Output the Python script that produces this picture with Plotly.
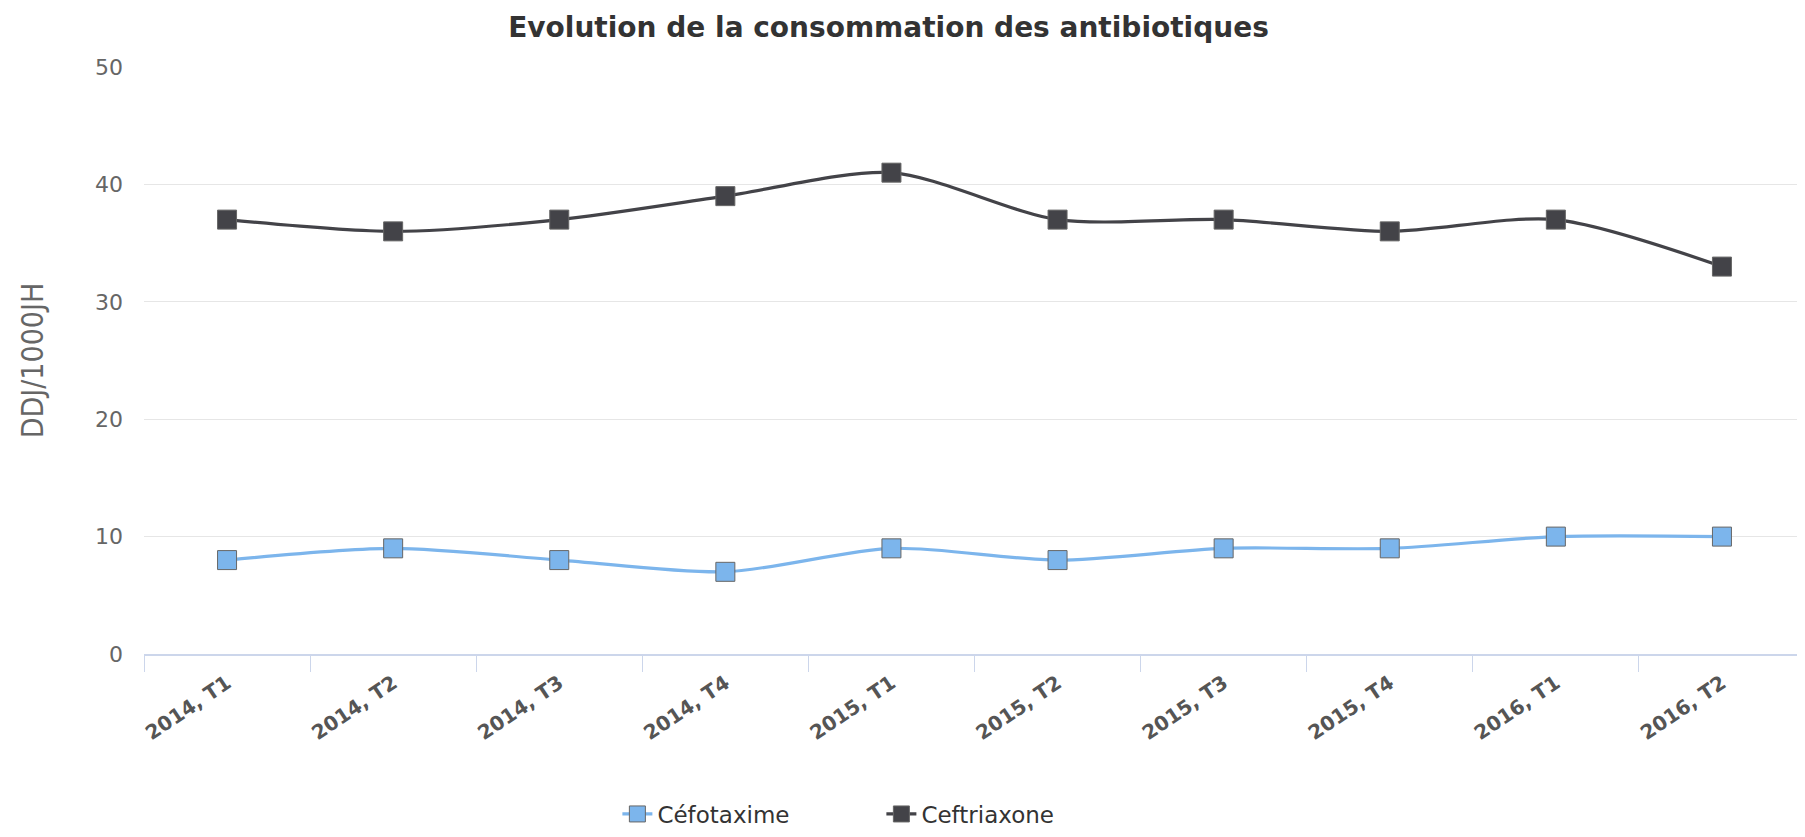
import plotly.graph_objects as go

categories = ["2014, T1", "2014, T2", "2014, T3", "2014, T4", "2015, T1",
              "2015, T2", "2015, T3", "2015, T4", "2016, T1", "2016, T2"]
cefotaxime = [8, 9, 8, 7, 9, 8, 9, 9, 10, 10]
ceftriaxone = [37, 36, 37, 39, 41, 37, 37, 36, 37, 33]

W, H = 1797, 829  # page body adds an 8px offset

fig = go.Figure()
fig.add_trace(go.Scatter(
    x=categories, y=cefotaxime, name="Céfotaxime", mode="lines+markers",
    line=dict(color="#7cb5ec", width=3.2, shape="spline", smoothing=0.8),
    marker=dict(symbol="square", size=19, color="#7cb5ec",
                line=dict(color="#666666", width=1)),
))
fig.add_trace(go.Scatter(
    x=categories, y=ceftriaxone, name="Ceftriaxone", mode="lines+markers",
    line=dict(color="#434348", width=3.2, shape="spline", smoothing=0.8),
    marker=dict(symbol="square", size=19, color="#434348",
                line=dict(color="#666666", width=1)),
))

fig.update_layout(
    width=W, height=H,
    paper_bgcolor="white", plot_bgcolor="white",
    margin=dict(l=136, r=0, t=59, b=183, autoexpand=False),
    title=dict(text="<b>Evolution de la consommation des antibiotiques</b>",
               x=0.490, xanchor="center", y=1 - 19.5 / H, yanchor="middle",
               font=dict(family="DejaVu Sans", size=28, color="#333333")),
    showlegend=True,
    legend=dict(orientation="h", x=0.285, xanchor="left",
                yref="container", y=1 - 806 / H, yanchor="middle",
                font=dict(family="DejaVu Sans", size=23, color="#333333"),
                itemwidth=30, entrywidth=219, entrywidthmode="pixels", tracegroupgap=0),
    xaxis=dict(
        type="category", range=[-0.5, 9.5], automargin=False,
        showgrid=False, showline=True, linecolor="#ccd6eb", linewidth=1.5,
        ticks="outside", tickson="boundaries", ticklen=16, tickcolor="#ccd6eb",
        tickangle=-34, ticklabelstandoff=8,
        tickfont=dict(family="DejaVu Sans", size=20, color="#555555", weight="bold"),
    ),
    yaxis=dict(
        range=[0, 50], tick0=0, dtick=10, automargin=False,
        showgrid=True, gridcolor="#e6e6e6", gridwidth=1.2,
        zeroline=False, showline=False,
        ticklabelstandoff=20,
        tickfont=dict(family="DejaVu Sans", size=22, color="#666666"),
        title=dict(text="DDJ/1000JH", standoff=42,
                   font=dict(family="Liberation Sans Narrow, DejaVu Sans Condensed", size=30, color="#666666")),
    ),
)

fig.write_html("out.html")
